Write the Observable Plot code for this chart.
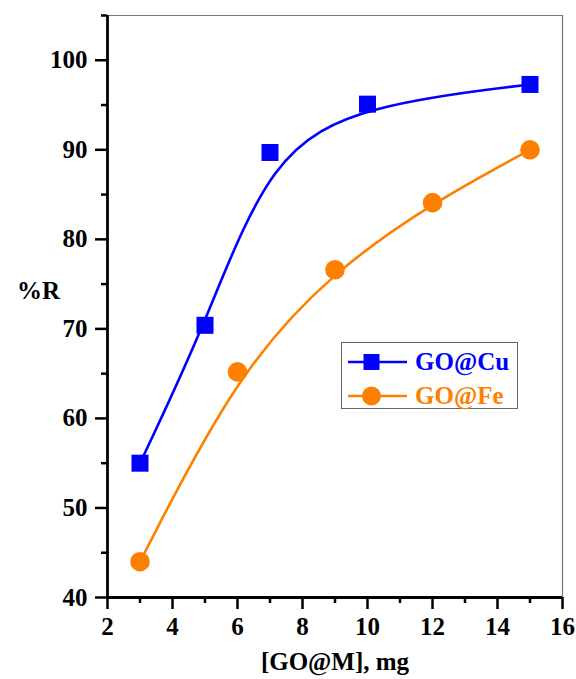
<!DOCTYPE html>
<html>
<head>
<meta charset="utf-8">
<script src="https://cdn.jsdelivr.net/npm/d3@7"></script>
<script src="https://cdn.jsdelivr.net/npm/@observablehq/plot@0.6"></script>
<style>
  body { margin: 0; background: #fff; }
  #wrap { position: relative; width: 576px; height: 679px; font-family: "Liberation Serif", "Times New Roman", serif; }
  #chart svg, #chart svg text { font-family: "Liberation Serif", "Times New Roman", serif !important; font-weight: bold; }
  #legend {
    position: absolute; left: 341px; top: 342px; width: 177px; height: 67px;
    border: 1.5px solid #666; background: #fff; box-sizing: border-box;
  }
  #legend .row { position: absolute; left: 0; height: 30px; display: flex; align-items: center; }
  #legend svg { display: block; }
  #legend span { font-weight: bold; font-size: 25px; margin-left: 8px; line-height: 30px; }
</style>
</head>
<body>
<div id="wrap">
  <div id="chart"></div>
  <div id="legend"></div>
</div>
<script>
// Removal efficiency (%R) against adsorbent dose [GO@M], mg
const doseCu = [3, 5, 7, 10, 15];
const removalCu = [55.0, 70.4, 89.7, 95.1, 97.3];
const doseFe = [3, 6, 9, 12, 15];
const removalFe = [44.0, 65.2, 76.6, 84.1, 90.0];

const xMajor = [2, 4, 6, 8, 10, 12, 14, 16];
const xMinor = [3, 5, 7, 9, 11, 13, 15];
const yMajor = [40, 50, 60, 70, 80, 90, 100];
const yMinor = [45, 55, 65, 75, 85, 95, 105];

const seriesNames = ["GO@Cu", "GO@Fe"];
const seriesColors = ["#0000ff", "#ff8000"];

const cu = doseCu.map((x, i) => ({x, y: removalCu[i]}));
const fe = doseFe.map((x, i) => ({x, y: removalFe[i]}));

const font = "'Liberation Serif', 'Times New Roman', serif";

const chart = Plot.plot({
  width: 576,
  height: 679,
  marginLeft: 107,
  marginRight: 14,
  marginTop: 15,
  marginBottom: 82,
  style: {fontFamily: font, fontWeight: "bold", fontSize: "25px", color: "#000", background: "#fff"},
  x: {domain: [2, 16]},
  y: {domain: [40, 105]},
  marks: [
    // frame: thin grey top and right edges
    Plot.ruleY([105], {stroke: "#777", strokeWidth: 1.2}),
    Plot.ruleX([16], {stroke: "#777", strokeWidth: 1.2}),
    // major and minor ticks
    Plot.axisX(xMajor, {tickSize: 12, strokeWidth: 2.5, tickPadding: 8, fontSize: 25, fontWeight: "bold", label: null}),
    Plot.axisX(xMinor, {tickSize: 6, strokeWidth: 2.5, tickFormat: () => "", label: null}),
    Plot.axisY(yMajor, {tickSize: 12, strokeWidth: 2.5, tickPadding: 8, fontSize: 25, fontWeight: "bold", label: null}),
    Plot.axisY(yMinor, {tickSize: 6, strokeWidth: 2.5, tickFormat: () => "", label: null}),
    // fitted curves
    Plot.line(cu, {x: "x", y: "y", curve: "basis", stroke: seriesColors[0], strokeWidth: 2.6}),
    Plot.line(fe, {x: "x", y: "y", curve: "basis", stroke: seriesColors[1], strokeWidth: 2.6}),
    // measured points
    Plot.dot(cu, {x: "x", y: "y", symbol: "square", r: 9.6, fill: seriesColors[0], stroke: "none"}),
    Plot.dot(fe, {x: "x", y: "y", symbol: "circle", r: 9.8, fill: seriesColors[1], stroke: "none"}),
    // axis lines
    Plot.ruleX([2], {stroke: "#000", strokeWidth: 2.8}),
    Plot.ruleY([40], {stroke: "#000", strokeWidth: 2.8}),
    // axis titles
    Plot.text(["[GO@M], mg"], {frameAnchor: "bottom", dy: 72, fontSize: 25, fontWeight: "bold", fill: "#000"}),
    Plot.text(["%R"], {frameAnchor: "left", textAnchor: "middle", dx: -69, dy: -16, fontSize: 25, fontWeight: "bold", fill: "#000"})
  ]
});
document.getElementById("chart").appendChild(chart);

// legend with line + marker swatches
const legend = document.getElementById("legend");
seriesNames.forEach((name, i) => {
  const row = document.createElement("div");
  row.className = "row";
  row.style.top = (i === 0 ? 4 : 38) + "px";
  const c = seriesColors[i];
  const marker = i === 0
    ? `<rect x="21.5" y="7" width="16" height="16" fill="${c}"/>`
    : `<circle cx="29.5" cy="15" r="9.5" fill="${c}"/>`;
  row.innerHTML = `<svg width="65" height="30"><line x1="6" x2="65" y1="15" y2="15" stroke="${c}" stroke-width="2.6"/>${marker}</svg><span style="color:${c}">${name}</span>`;
  legend.appendChild(row);
});
</script>
</body>
</html>
